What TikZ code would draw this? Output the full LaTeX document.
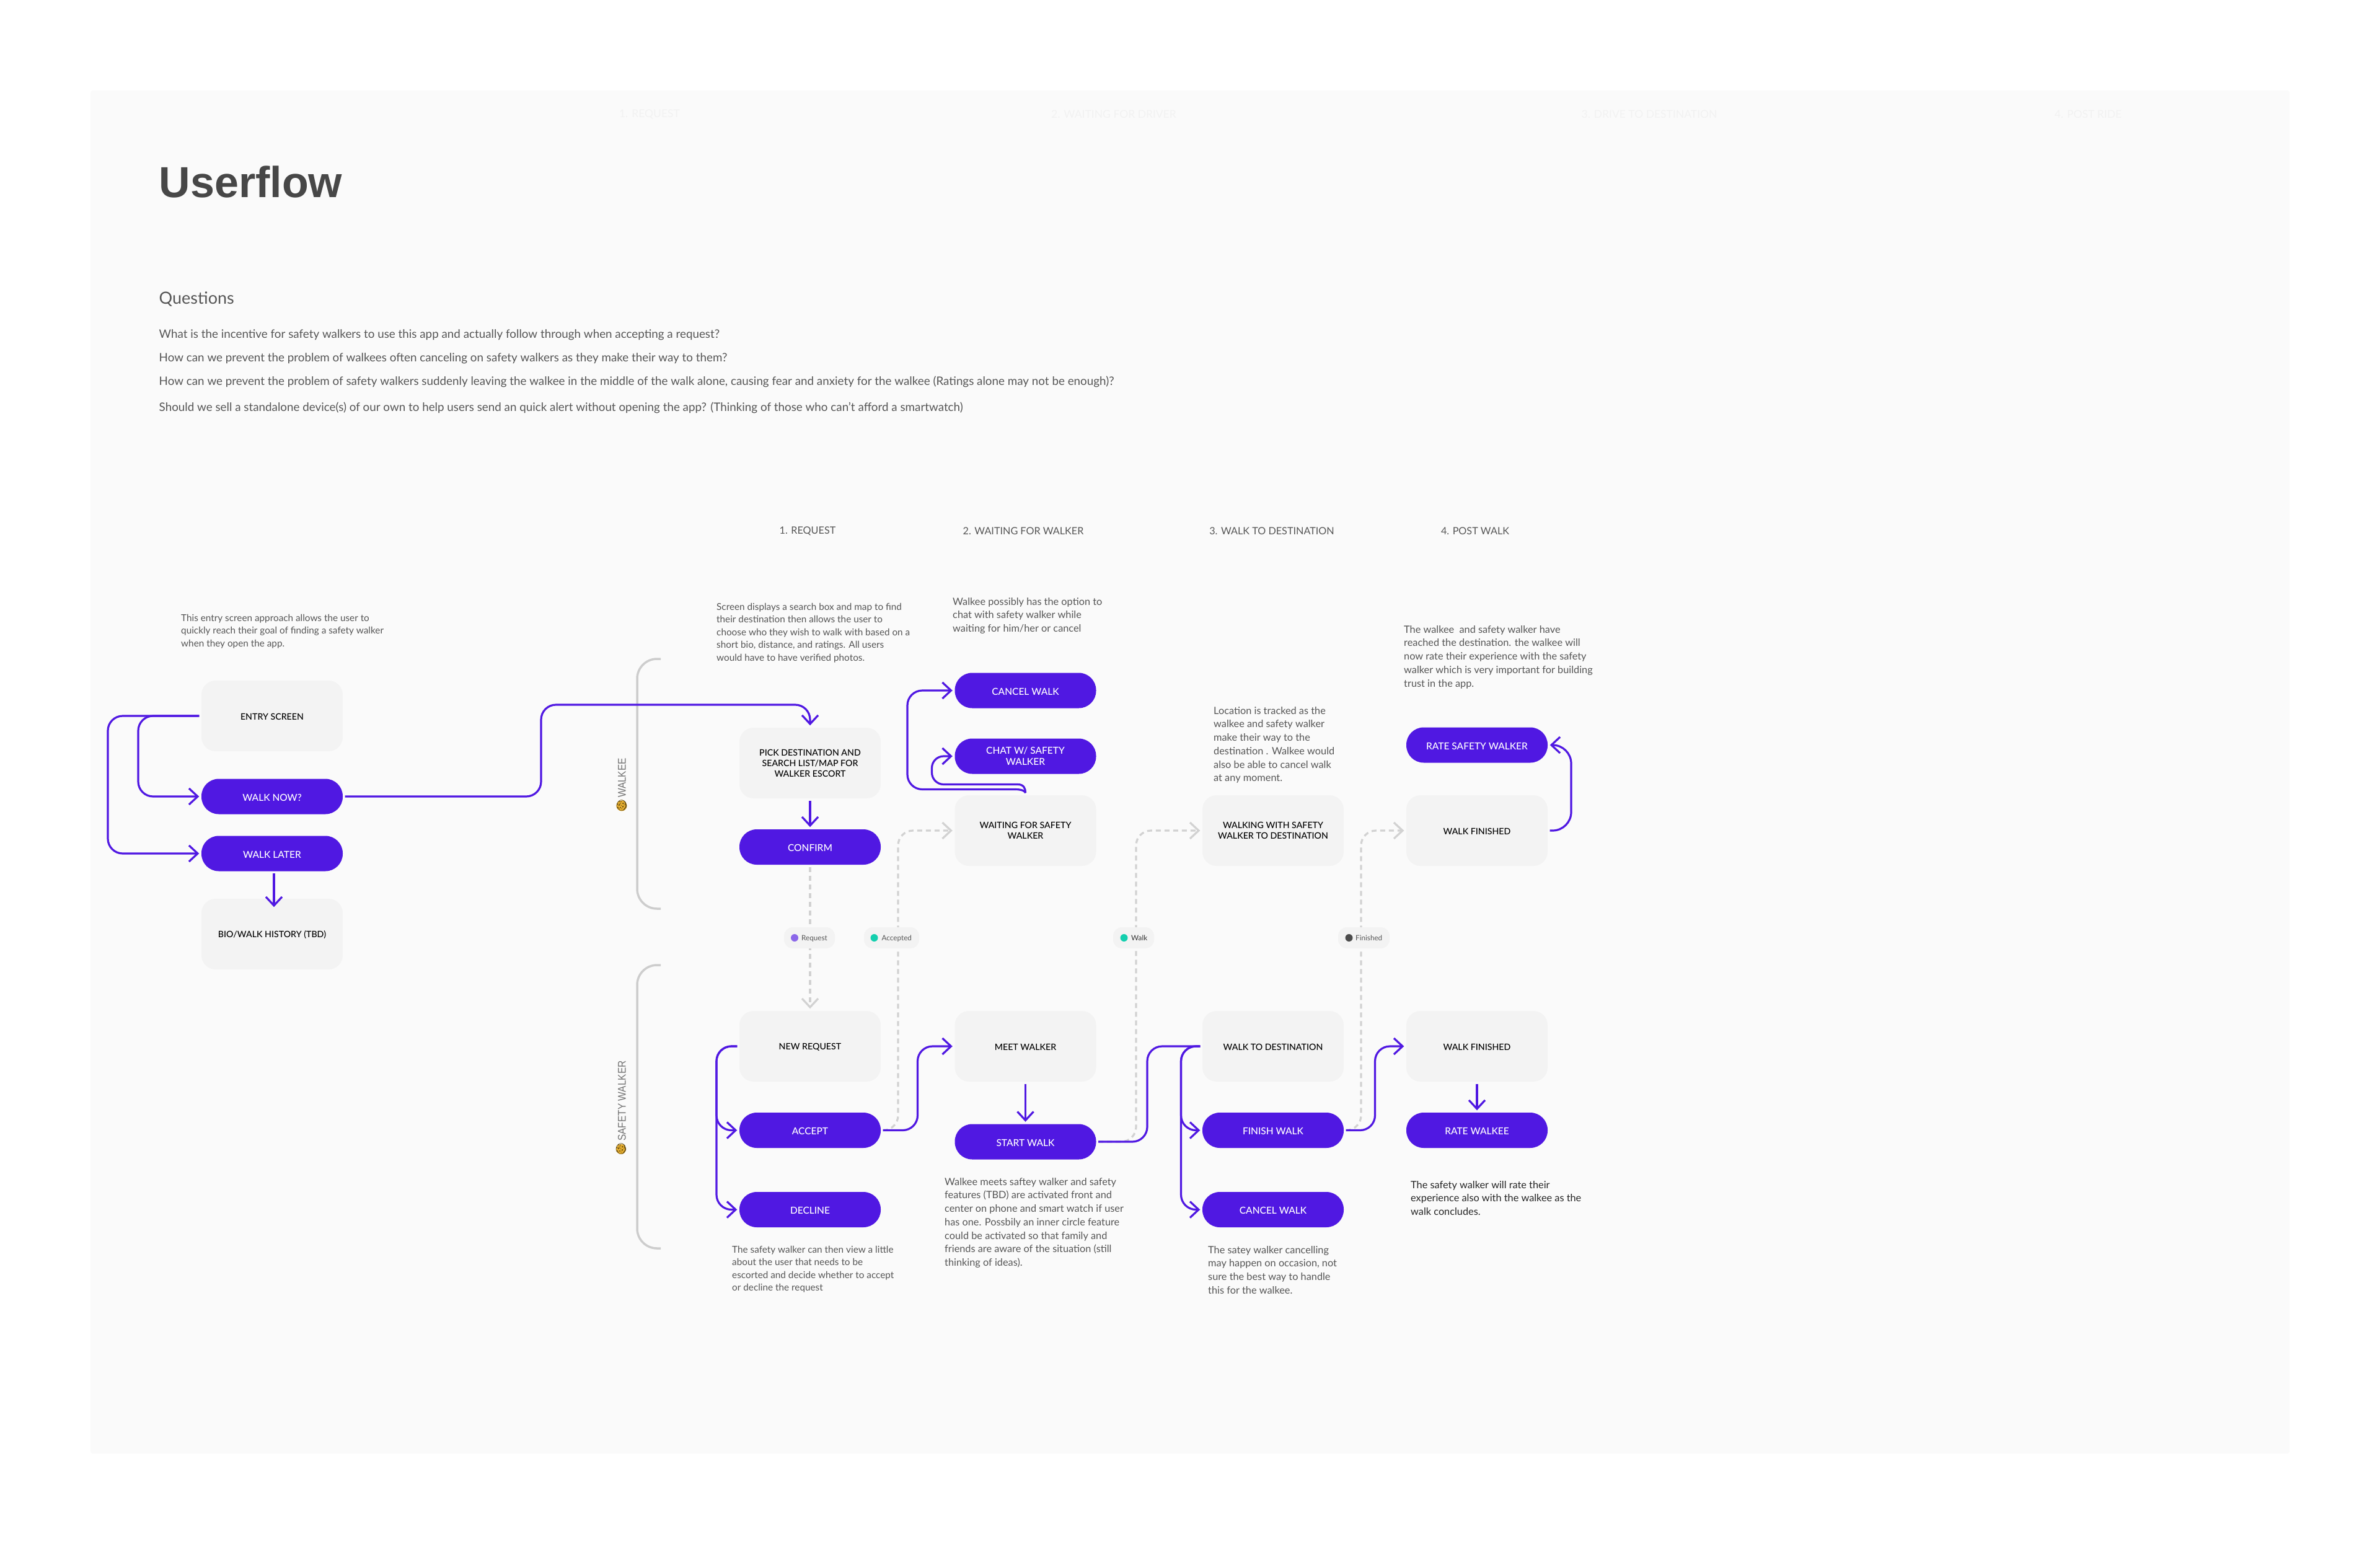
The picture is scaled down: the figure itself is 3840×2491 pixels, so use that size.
\documentclass[tikz,border=0pt]{standalone}
\usepackage{fontspec}
\setmainfont{Lato}
\newfontfamily\titlefont{Liberation Sans}
\newfontfamily\labelfont{Lato Medium}
\newfontfamily\emojifont{Noto Emoji}
\usetikzlibrary{arrows.meta}
\definecolor{panelbg}{HTML}{FAFAFA}
\definecolor{boxbg}{HTML}{F3F3F3}
\definecolor{flowblue}{HTML}{5018E2}
\definecolor{dashgray}{HTML}{D2D2D2}
\definecolor{bracegray}{HTML}{CDCDCD}
\definecolor{bodygray}{HTML}{565656}
\definecolor{emojigold}{HTML}{E8B030}
\definecolor{dotviolet}{HTML}{8B67E9}
\definecolor{dotteal}{HTML}{14CFAE}
\tikzset{
  flowbox/.style={fill=boxbg,rounded corners=23pt,minimum width=228pt,minimum height=114pt,inner sep=0pt,align=center,text=black,font=\labelfont\fontsize{14.2}{17}\selectfont,execute at begin node={\rule{0pt}{.92em}}},
  flowpill/.style={fill=flowblue,rounded corners=28pt,minimum width=228pt,minimum height=57pt,inner sep=0pt,align=center,text=white,font=\labelfont\fontsize{15.5}{18}\selectfont,execute at begin node={\rule{0pt}{.92em}}},
  badge/.style={fill=boxbg,rounded corners=14pt,minimum height=34pt,inner sep=0pt},
  badgetext/.style={anchor=base west,inner sep=0pt,text=bodygray,font=\fontsize{11.7}{13}\selectfont},
  badgedot/.style={circle,minimum size=12pt,inner sep=0pt},
  descr/.style={anchor=north west,inner sep=0pt,align=left,text=bodygray,font=\fontsize{15.3}{20.5}\selectfont},
  descrwide/.style={descr,font=\fontsize{16.3}{21.7}\selectfont},
  question/.style={anchor=base west,inner sep=0pt,text=bodygray,font=\fontsize{18.8}{22}\selectfont},
  stephead/.style={inner sep=0pt,text=bodygray,font=\fontsize{16.2}{18}\selectfont},
  ghosthead/.style={inner sep=0pt,text=black!5,font=\fontsize{17.5}{18}\selectfont},
  rolelabel/.style={rotate=90,inner sep=0pt,text=black!55,font=\titlefont\fontsize{18}{20}\selectfont},
  emojimark/.style={inner sep=0pt,rotate=90,text=emojigold!45!black,font=\emojifont\fontsize{17}{17}\selectfont},
  flowarrow/.style={draw=flowblue,line width=3.2pt,-{Straight Barb[length=14pt,width=26pt,line width=3.2pt]},shorten >=3.5pt,shorten <=3.5pt},
  flowline/.style={draw=flowblue,line width=3.2pt,shorten <=3.5pt},
  dasharrow/.style={draw=dashgray,line width=3.2pt,dash pattern=on 8pt off 6pt,-{Straight Barb[length=14pt,width=26pt,line width=3.2pt]},shorten >=3.5pt,shorten <=3.5pt},
  bracket/.style={draw=bracegray,line width=3.5pt,rounded corners=32pt}
}
\begin{document}
\begin{tikzpicture}[x=1pt,y=-1pt]
  \useasboundingbox (0,0) rectangle (3840,2491);
  \fill[white] (0,0) rectangle (3840,2491);
  \fill[panelbg,rounded corners=4pt] (146,146) rectangle (3694,2345);

  \node[ghosthead] (ghost1) at (1048,184) {1. REQUEST};
  \node[ghosthead] (ghost2) at (1797,184) {2. WAITING FOR DRIVER};
  \node[ghosthead] (ghost3) at (2661,184) {3. DRIVE TO DESTINATION};
  \node[ghosthead] (ghost4) at (3369,184) {4. POST RIDE};

  \node[anchor=base west,inner sep=0pt,text=black!72,font=\titlefont\bfseries\fontsize{70}{80}\selectfont] (title) at (256.5,318) {Userflow};
  \node[anchor=base west,inner sep=0pt,text=bodygray,font=\fontsize{27}{30}\selectfont] (questions) at (256.5,490) {Questions};
  \node[question] (q1) at (256.5,545) {What is the incentive for safety walkers to use this app and actually follow through when accepting a request?};
  \node[question] (q2) at (256.5,583) {How can we prevent the problem of walkees often canceling on safety walkers as they make their way to them?};
  \node[question] (q3) at (256.5,621) {How can we prevent the problem of safety walkers suddenly leaving the walkee in the middle of the walk alone, causing fear and anxiety for the walkee (Ratings alone may not be enough)?};
  \node[question] (q4) at (256.5,663) {Should we sell a standalone device(s) of our own to help users send an quick alert without opening the app? (Thinking of those who can't afford a smartwatch)};

  \node[stephead] (head1) at (1303,857) {1. REQUEST};
  \node[stephead] (head2) at (1651,857) {2. WAITING FOR WALKER};
  \node[stephead] (head3) at (2052,857) {3. WALK TO DESTINATION};
  \node[stephead] (head4) at (2380,857) {4. POST WALK};

  \node[descr] (noteentry) at (292,991) {This entry screen approach allows the user to\\quickly reach their goal of finding a safety walker\\when they open the app.};
  \node[descr] (notepick) at (1156,973) {Screen displays a search box and map to find\\their destination then allows the user to\\choose who they wish to walk with based on a\\short bio, distance, and ratings. All users\\would have to have verified photos.};
  \node[descrwide] (notewait) at (1537,964) {Walkee possibly has the option to\\chat with safety walker while\\waiting for him/her or cancel};
  \node[descrwide] (notewalk) at (1958,1140) {Location is tracked as the\\walkee and safety walker\\make their way to the\\destination . Walkee would\\also be able to cancel walk\\at any moment.};
  \node[descrwide] (notepost) at (2265,1009) {The walkee\ \ and safety walker have\\reached the destination. the walkee will\\now rate their experience with the safety\\walker which is very important for building\\trust in the app.};
  \node[descr] (notenew) at (1181,2010) {The safety walker can then view a little\\about the user that needs to be\\escorted and decide whether to accept\\or decline the request};
  \node[descrwide] (notemeet) at (1524,1900) {Walkee meets saftey walker and safety\\features (TBD) are activated front and\\center on phone and smart watch if user\\has one. Possbily an inner circle feature\\could be activated so that family and\\friends are aware of the situation (still\\thinking of ideas).};
  \node[descrwide] (notecancel) at (1949,2010) {The satey walker cancelling\\may happen on occasion, not\\sure the best way to handle\\this for the walkee.};
  \node[descrwide,text=black!85] (noterate) at (2276,1905) {The safety walker will rate their\\experience also with the walkee as the\\walk concludes.};

  \draw[bracket] (1066,1063) -| (1028,1466) -- (1066,1466);
  \draw[bracket] (1066,1557) -| (1028,2014) -- (1066,2014);
  \fill[emojigold] (1003,1300) circle (8.5);
  \node[emojimark] (emojiwalkee) at (1003,1300) {^^^^^^01f36a};
  \node[rolelabel] (rolewalkee) at (1003.5,1255) {\scalebox{.86}[1]{WALKEE}};
  \fill[emojigold] (1002,1854) circle (8);
  \node[emojimark] (emojiwalker) at (1002,1854) {^^^^^^01f36a};
  \node[rolelabel] (rolewalker) at (1003.5,1776) {\scalebox{.86}[1]{SAFETY WALKER}};

  \node[flowbox] (entry) at (439,1155) {ENTRY SCREEN};
  \node[flowpill] (walknow) at (439,1285) {WALK NOW?};
  \node[flowpill] (walklater) at (439,1377) {WALK LATER};
  \node[flowbox] (bio) at (439,1507) {BIO/WALK HISTORY (TBD)};
  \node[flowbox] (pick) at (1307,1231) {PICK DESTINATION AND\\SEARCH LIST/MAP FOR\\WALKER ESCORT};
  \node[flowpill] (confirm) at (1307,1366.5) {CONFIRM};
  \node[flowpill] (cancelwalk) at (1654.5,1114) {CANCEL WALK};
  \node[flowpill] (chat) at (1654.5,1220) {CHAT W/ SAFETY\\WALKER};
  \node[flowbox] (waiting) at (1654.5,1340) {WAITING FOR SAFETY\\WALKER};
  \node[flowbox] (walking) at (2054,1340) {WALKING WITH SAFETY\\WALKER TO DESTINATION};
  \node[flowbox] (finished) at (2383,1340) {WALK FINISHED};
  \node[flowpill] (ratesafety) at (2383,1202) {RATE SAFETY WALKER};
  \node[flowbox] (newrequest) at (1307,1688) {NEW REQUEST};
  \node[flowpill] (accept) at (1307,1823.5) {ACCEPT};
  \node[flowpill] (decline) at (1307,1951.5) {DECLINE};
  \node[flowbox] (meet) at (1654.5,1688) {MEET WALKER};
  \node[flowpill] (startwalk) at (1654.5,1842) {START WALK};
  \node[flowbox] (walkdest) at (2054,1688) {WALK TO DESTINATION};
  \node[flowpill] (finishwalk) at (2054,1823.5) {FINISH WALK};
  \node[flowpill] (cancelsafety) at (2054,1951.5) {CANCEL WALK};
  \node[flowbox] (finishedsafety) at (2383,1688) {WALK FINISHED};
  \node[flowpill] (ratewalkee) at (2383,1823.5) {RATE WALKEE};

  \begin{scope}[rounded corners=24pt]
    \draw[dasharrow] (confirm.south) -- (newrequest.north);
    \draw[dasharrow] (accept.east) -| (1449,1340) -- (waiting.west);
    \draw[dasharrow] (startwalk.east) -| (1833,1340) -- (walking.west);
    \draw[dasharrow] (finishwalk.east) -| (2196,1340) -- (finished.west);
  \end{scope}

  \node[badge,minimum width=82pt] (badgerequest) at (1306,1513) {};
  \node[badge,minimum width=89pt] (badgeaccepted) at (1438.5,1513) {};
  \node[badge,minimum width=66pt] (badgewalk) at (1829,1513) {};
  \node[badge,minimum width=83pt] (badgefinished) at (2200.5,1513) {};
  \node[badgedot,fill=dotviolet] (dotrequest) at (1282,1513) {};
  \node[badgedot,fill=dotteal] (dotaccepted) at (1410.5,1513) {};
  \node[badgedot,fill=dotteal] (dotwalk) at (1813.5,1513) {};
  \node[badgedot,fill=black!70] (dotfinished) at (2176.5,1513) {};
  \node[badgetext] (textrequest) at (1293,1517) {Request};
  \node[badgetext] (textaccepted) at (1422.5,1517) {Accepted};
  \node[badgetext,text=black!80] (textwalk) at (1825,1517) {Walk};
  \node[badgetext] (textfinished) at (2187,1517) {Finished};

  \coordinate (outerbend) at (1638,1273.5);
  \coordinate (innerbend) at (1642,1265.5);
  \draw[flowline] (waiting.north) .. controls (1654.5,1277) and (1650,1273.5) .. (outerbend);
  \draw[flowline] (waiting.north) .. controls (1654.5,1272) and (1652,1265.5) .. (innerbend);

  \begin{scope}[rounded corners=24pt]
    \draw[flowarrow] (entry.west) -| (174,1377) -- (walklater.west);
    \draw[flowarrow] (entry.west) -| (223,1285) -- (walknow.west);
    \draw[flowarrow] (walknow.east) -| (873,1137) -| (pick.north);
    \draw[flowarrow] ([xshift=3pt]walklater.south) -- ([xshift=3pt,yshift=-17pt]bio.north);
    \draw[flowarrow] (pick.south) -- (confirm.north);
    \draw[flowarrow,shorten <=0pt] (outerbend) -- (1464,1273.5) |- (cancelwalk.west);
    \draw[flowarrow,shorten <=0pt,rounded corners=19pt] (innerbend) -- (1503.5,1265.5) |- (chat.west);
    \draw[flowarrow,rounded corners=30pt] (finished.east) -| (2535,1202) -- (ratesafety.east);
    \draw[flowarrow] (newrequest.west) -| (1156,1823.5) -- (accept.west);
    \draw[flowarrow] (newrequest.west) -| (1156,1951.5) -- (decline.west);
    \draw[flowarrow] (accept.east) -| (1480.5,1688) -- (meet.west);
    \draw[flowarrow] (meet.south) -- (startwalk.north);
    \draw[flowline,shorten >=3.5pt] (startwalk.east) -| (1851,1688) -- (walkdest.west);
    \draw[flowarrow] (walkdest.west) -| (1905.5,1823.5) -- (finishwalk.west);
    \draw[flowarrow] (walkdest.west) -| (1905.5,1951.5) -- (cancelsafety.west);
    \draw[flowarrow] (finishwalk.east) -| (2218.5,1688) -- (finishedsafety.west);
    \draw[flowarrow] (finishedsafety.south) -- (ratewalkee.north);
  \end{scope}
\end{tikzpicture}
\end{document}
